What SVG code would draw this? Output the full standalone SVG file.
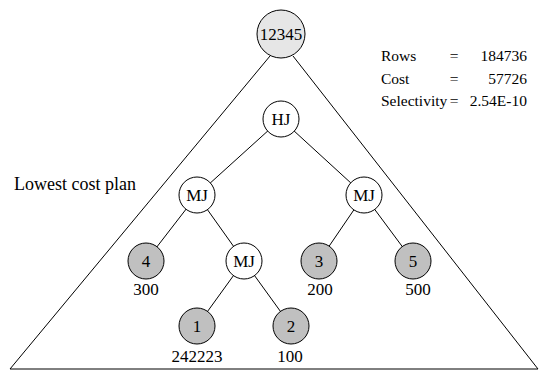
<svg xmlns="http://www.w3.org/2000/svg" width="544" height="371" viewBox="0 0 544 371">
<style>
text{font-family:"Liberation Serif","Times New Roman",serif;font-size:17px;fill:#000}
.c{text-anchor:middle}
.r{text-anchor:end}
.s{font-size:15.5px}
.n circle{stroke:#000;stroke-width:1;fill:#fff}
.g circle{fill:#c0c0c0}
.top circle{fill:#e6e6e6}
.e line, .tri{stroke:#000;stroke-width:1;fill:none}
</style>
<rect width="544" height="371" fill="#fff"/>
<g id="plan-triangle">
<polyline class="tri" points="270,56 10,369 538,369 293,56"/>
</g>
<g id="connectors" class="e">
<line x1="281" y1="119" x2="197" y2="195"/>
<line x1="281" y1="119" x2="364" y2="195"/>
<line x1="197" y1="195" x2="146" y2="261"/>
<line x1="197" y1="195" x2="244" y2="261"/>
<line x1="364" y1="195" x2="319" y2="261"/>
<line x1="364" y1="195" x2="413" y2="261"/>
<line x1="244" y1="261" x2="197" y2="326"/>
<line x1="244" y1="261" x2="291" y2="326"/>
</g>
<g id="n12345" class="n top"><circle cx="281" cy="34" r="24"/><text class="c" x="281" y="40">12345</text></g>
<g id="nHJ" class="n"><circle cx="281" cy="119" r="18"/><text class="c" x="281" y="125">HJ</text></g>
<g id="nMJ1" class="n"><circle cx="197" cy="195" r="18"/><text class="c" x="197" y="201">MJ</text></g>
<g id="nMJ2" class="n"><circle cx="364" cy="195" r="18"/><text class="c" x="364" y="201">MJ</text></g>
<g id="nMJ3" class="n"><circle cx="244" cy="261" r="18"/><text class="c" x="244" y="267">MJ</text></g>
<g id="n4" class="n g"><circle cx="146" cy="261" r="18"/><text class="c" x="146" y="267">4</text><text class="c" x="146" y="295">300</text></g>
<g id="n3" class="n g"><circle cx="319" cy="261" r="18"/><text class="c" x="319" y="267">3</text><text class="c" x="320" y="295">200</text></g>
<g id="n5" class="n g"><circle cx="413" cy="261" r="18"/><text class="c" x="413" y="267">5</text><text class="c" x="418" y="295">500</text></g>
<g id="n1" class="n g"><circle cx="197" cy="326" r="18"/><text class="c" x="197" y="332">1</text><text class="c" x="197" y="362">242223</text></g>
<g id="n2" class="n g"><circle cx="291" cy="326" r="18"/><text class="c" x="291" y="332">2</text><text class="c" x="290" y="362">100</text></g>
<g id="labels">
<text x="14" y="190" style="font-size:18px">Lowest cost plan</text>
<text class="s" x="381" y="61">Rows</text><text class="s c" x="454" y="61">=</text><text class="s r" x="527" y="61">184736</text>
<text class="s" x="381" y="84">Cost</text><text class="s c" x="454" y="84">=</text><text class="s r" x="527" y="84">57726</text>
<text class="s" x="381" y="106">Selectivity</text><text class="s c" x="454" y="106">=</text><text class="s r" x="527" y="106">2.54E-10</text>
</g>
</svg>
